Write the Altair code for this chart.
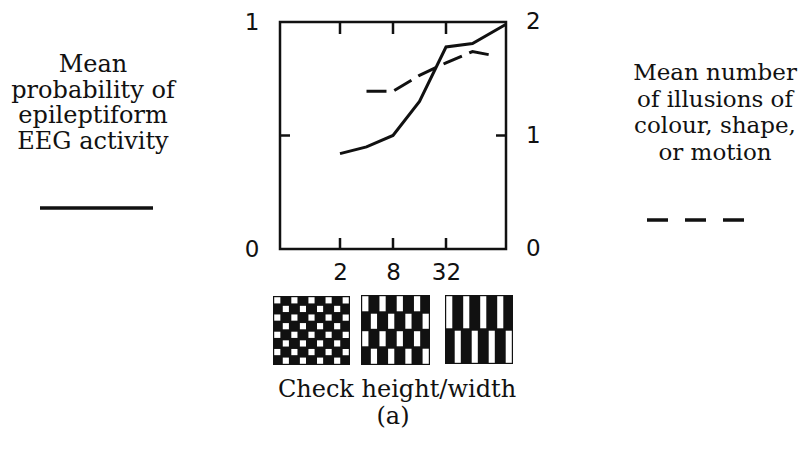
import altair as alt
import pandas as pd

# ---------------- data ----------------
eeg_x = [2, 4, 8, 16, 32, 64, 154]
eeg_y = [0.42, 0.45, 0.50, 0.65, 0.89, 0.905, 0.99]
ill_x = [4, 8, 16, 32, 64, 118]
ill_y = [1.39, 1.39, 1.53, 1.64, 1.74, 1.70]
x_tick_values = [2, 8, 32]
left_label_values = [0, 1]
left_inner_ticks = [0.5]
right_label_values = [0, 1, 2]
right_inner_ticks = [1]
left_text = ["Mean", "probability of", "epileptiform", "EEG activity"]
right_text = ["Mean number", "of illusions of", "colour, shape,", "or motion"]
x_title = "Check height/width"
panel_label = "(a)"
checker_cols = [9, 8, 8]
checker_rows = [8, 4, 2]

# ---------------- layout / style ----------------
W, H = 226, 227
PAD = {"left": 272, "top": 14, "right": 294, "bottom": 185}
OX, OY = 8 + PAD["left"], 8 + PAD["top"]      # page position of plot origin
X_DOMAIN = [0.4164, 153.7]
INK = "#111111"
NUM_FONT = "DejaVu Sans"
TXT_FONT = "DejaVu Serif"
panel_boxes = [(273, 296, 350, 365), (361, 295, 430, 365), (445, 295, 513, 364)]
INSET = 1.2

xscale = alt.Scale(type="log", base=2, domain=X_DOMAIN, nice=False)
lscale = alt.Scale(domain=[0, 1], nice=False, zero=False)
rscale = alt.Scale(domain=[0, 2], nice=False, zero=False)

axis_common = dict(ticks=False, domain=False, grid=False, title=None,
                   labelFont=NUM_FONT, labelFontSize=23, labelColor=INK,
                   labelFlush=False, labelOverlap=False)

X_ENC = alt.X("x:Q", scale=xscale,
              axis=alt.Axis(values=x_tick_values, format="d", labelPadding=12,
                            labelBaseline="top", **axis_common))
YL_ENC = alt.Y("y:Q", scale=lscale,
               axis=alt.Axis(values=left_label_values, format="d", labelPadding=21,
                             **axis_common))
YR_ENC = alt.Y("y:Q", scale=rscale,
               axis=alt.Axis(orient="right", values=right_label_values, labels=False,
                             **axis_common))

df_eeg = pd.DataFrame({"x": eeg_x, "y": eeg_y})
df_ill = pd.DataFrame({"x": ill_x, "y": ill_y})

solid = alt.Chart(df_eeg).mark_line(color=INK, strokeWidth=3).encode(x=X_ENC, y=YL_ENC)
left_tick = alt.Chart(pd.DataFrame({"y": left_inner_ticks})).mark_rule(
    color=INK, strokeWidth=2.5).encode(x=alt.value(0), x2=alt.value(10), y=YL_ENC)
left_group = alt.layer(solid, left_tick)

dashed = alt.Chart(df_ill).mark_line(color=INK, strokeWidth=3, strokeDash=[20, 8]).encode(
    x=X_ENC, y=YR_ENC)
right_tick = alt.Chart(pd.DataFrame({"y": right_inner_ticks})).mark_rule(
    color=INK, strokeWidth=2.5).encode(x=alt.value(W - 10), x2=alt.value(W), y=YR_ENC)
right_labels = alt.Chart(pd.DataFrame({"y": right_label_values})).mark_text(
    align="left", baseline="middle", font=NUM_FONT, fontSize=23, color=INK).encode(
    x=alt.value(W + 20), y=YR_ENC, text=alt.Text("y:Q", format="d"))
right_group = alt.layer(dashed, right_tick, right_labels)

df_xt = pd.DataFrame({"x": x_tick_values})
top_ticks = alt.Chart(df_xt).mark_rule(color=INK, strokeWidth=2.5).encode(
    x=X_ENC, y=alt.value(0), y2=alt.value(12))
bottom_ticks = alt.Chart(df_xt).mark_rule(color=INK, strokeWidth=2.5).encode(
    x=X_ENC, y=alt.value(H - 11), y2=alt.value(H))

# checkerboard illustrations
rows = []
for (x0, y0, x1, y1), nc, nr in zip(panel_boxes, checker_cols, checker_rows):
    rows.append(dict(cx=x0 - OX, cx2=x1 - OX, cy=y0 - OY, cy2=y1 - OY, c=INK))
    cw = (x1 - x0) / nc
    ch = (y1 - y0) / nr
    for i in range(nr):
        for j in range(nc):
            if (i + j) % 2 == 0:
                rows.append(dict(cx=x0 + j * cw + INSET - OX, cx2=x0 + (j + 1) * cw - INSET - OX,
                                 cy=y0 + i * ch + INSET - OY, cy2=y0 + (i + 1) * ch - INSET - OY,
                                 c="white"))
df_chk = pd.DataFrame(rows)
checkers = alt.Chart(df_chk).mark_rect().encode(
    x=alt.X("cx:Q", scale=None), x2="cx2:Q",
    y=alt.Y("cy:Q", scale=None), y2="cy2:Q",
    color=alt.Color("c:N", scale=None),
)

one = pd.DataFrame({"k": [0]})


def text_layer(lines, px, py, lh, size=24):
    return alt.Chart(one).mark_text(
        text=lines, align="center", baseline="alphabetic", font=TXT_FONT,
        fontSize=size, lineHeight=lh, color=INK,
    ).encode(x=alt.value(px - OX), y=alt.value(py - OY))


t_left = text_layer(left_text, 93, 72, 25.5)
t_right = text_layer(right_text, 715, 80, 26.7, size=23)
t_xtitle = text_layer(x_title, 397, 397, 26)
t_panel = text_layer(panel_label, 393, 424, 26)

leg_solid = alt.Chart(one).mark_rule(color=INK, strokeWidth=3.5).encode(
    x=alt.value(40 - OX), x2=alt.value(153 - OX), y=alt.value(208 - OY))
leg_dash = alt.Chart(one).mark_rule(color=INK, strokeWidth=3.5, strokeDash=[21, 17]).encode(
    x=alt.value(647 - OX), x2=alt.value(746 - OX), y=alt.value(220 - OY))

chart = alt.layer(
    left_group, right_group, top_ticks, bottom_ticks, checkers,
    t_left, t_right, t_xtitle, t_panel, leg_solid, leg_dash,
).resolve_scale(y="independent").properties(
    width=W, height=H, padding=PAD,
    autosize=alt.AutoSizeParams(type="none"),
    background="white",
).configure_view(stroke=INK, strokeWidth=2.5)

chart.save("out.html", embed_options={"renderer": "svg", "actions": False})
